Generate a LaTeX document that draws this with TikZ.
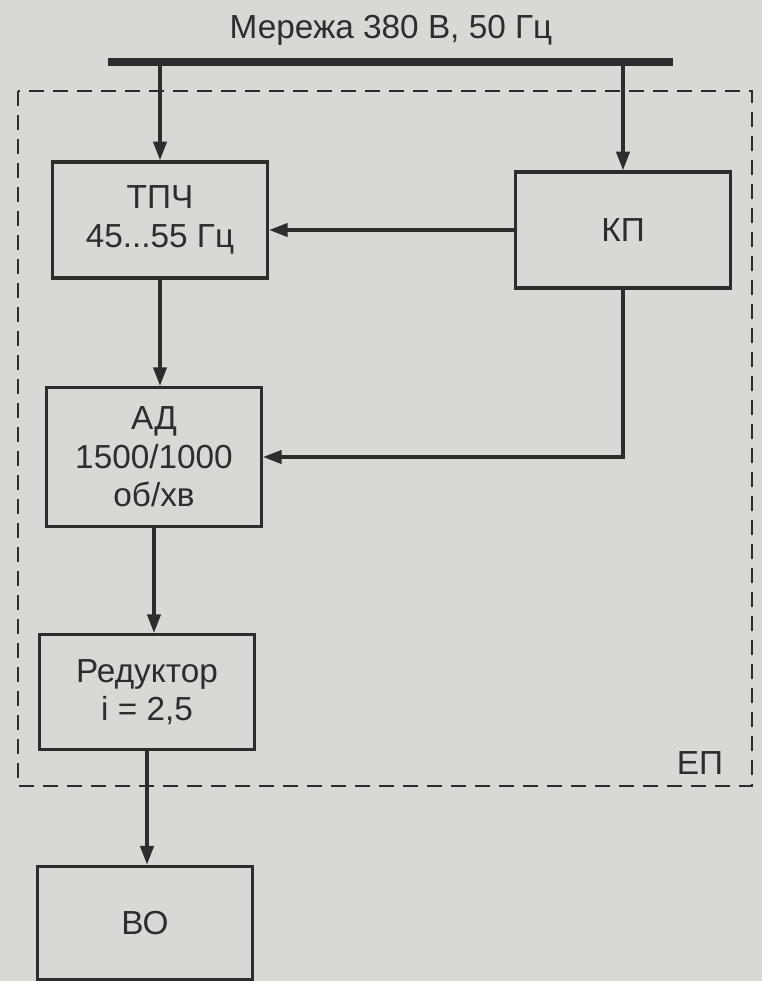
\documentclass[tikz,border=0pt]{standalone}
\usepackage{fontspec}
\setmainfont{Liberation Sans}
\usetikzlibrary{arrows.meta}
\definecolor{paper}{RGB}{216,217,212}
\definecolor{ink}{RGB}{45,45,45}
\tikzset{
  blok/.style={draw=ink, line width=2.6pt, text=ink, align=center,
    minimum width=161pt, font=\fontsize{25}{29}\selectfont},
  pijl/.style={draw=ink, line width=2.4pt, -{Triangle[length=14pt,width=10pt]}},
  label/.style={text=ink, font=\fontsize{25}{29}\selectfont}
}

\begin{document}
\begin{tikzpicture}[x=0.75pt,y=-0.75pt]

  \fill[paper] (0,0) rectangle (762,981);
  \useasboundingbox (0,0) rectangle (762,981);

  % supply bus
  \coordinate (busL) at (108,62);
  \coordinate (busR) at (673,62);
  \draw[ink,line width=6pt] (busL) -- (busR);
  \node[label] (net) at (391,30) {Мережа 380 В, 50 Гц};

  % drive boundary
  \draw[ink,line width=1.8pt,dash pattern=on 11pt off 7pt] (18,91) rectangle (752,786);
  \node[label] (ep) at (700,763) {ЕП};

  \node[blok, minimum height=87pt]  (tpch) at (160,220) {ТПЧ\\45...55 Гц};
  \node[blok, minimum height=87pt]  (kp)   at (623,230) {КП};
  \node[blok, minimum height=104pt] (ad)   at (154,457) {АД\\1500/1000\\об/хв};
  \node[blok, minimum height=86pt]  (red)  at (147,692) {Редуктор\\i = 2,5};
  \node[blok, minimum height=85pt]  (vo)   at (145,923) {ВО};

  \draw[pijl] (tpch |- busL) -- (tpch);
  \draw[pijl] (kp |- busR) -- (kp);
  \draw[pijl] (kp.west) -- (kp.west -| tpch.east);
  \draw[pijl] (kp.south) |- (ad.east);
  \draw[pijl] (tpch.south) -- (tpch.south |- ad.north);
  \draw[pijl] (ad.south) -- (ad.south |- red.north);
  \draw[pijl] (red.south) -- (red.south |- vo.north);

\end{tikzpicture}
\end{document}
